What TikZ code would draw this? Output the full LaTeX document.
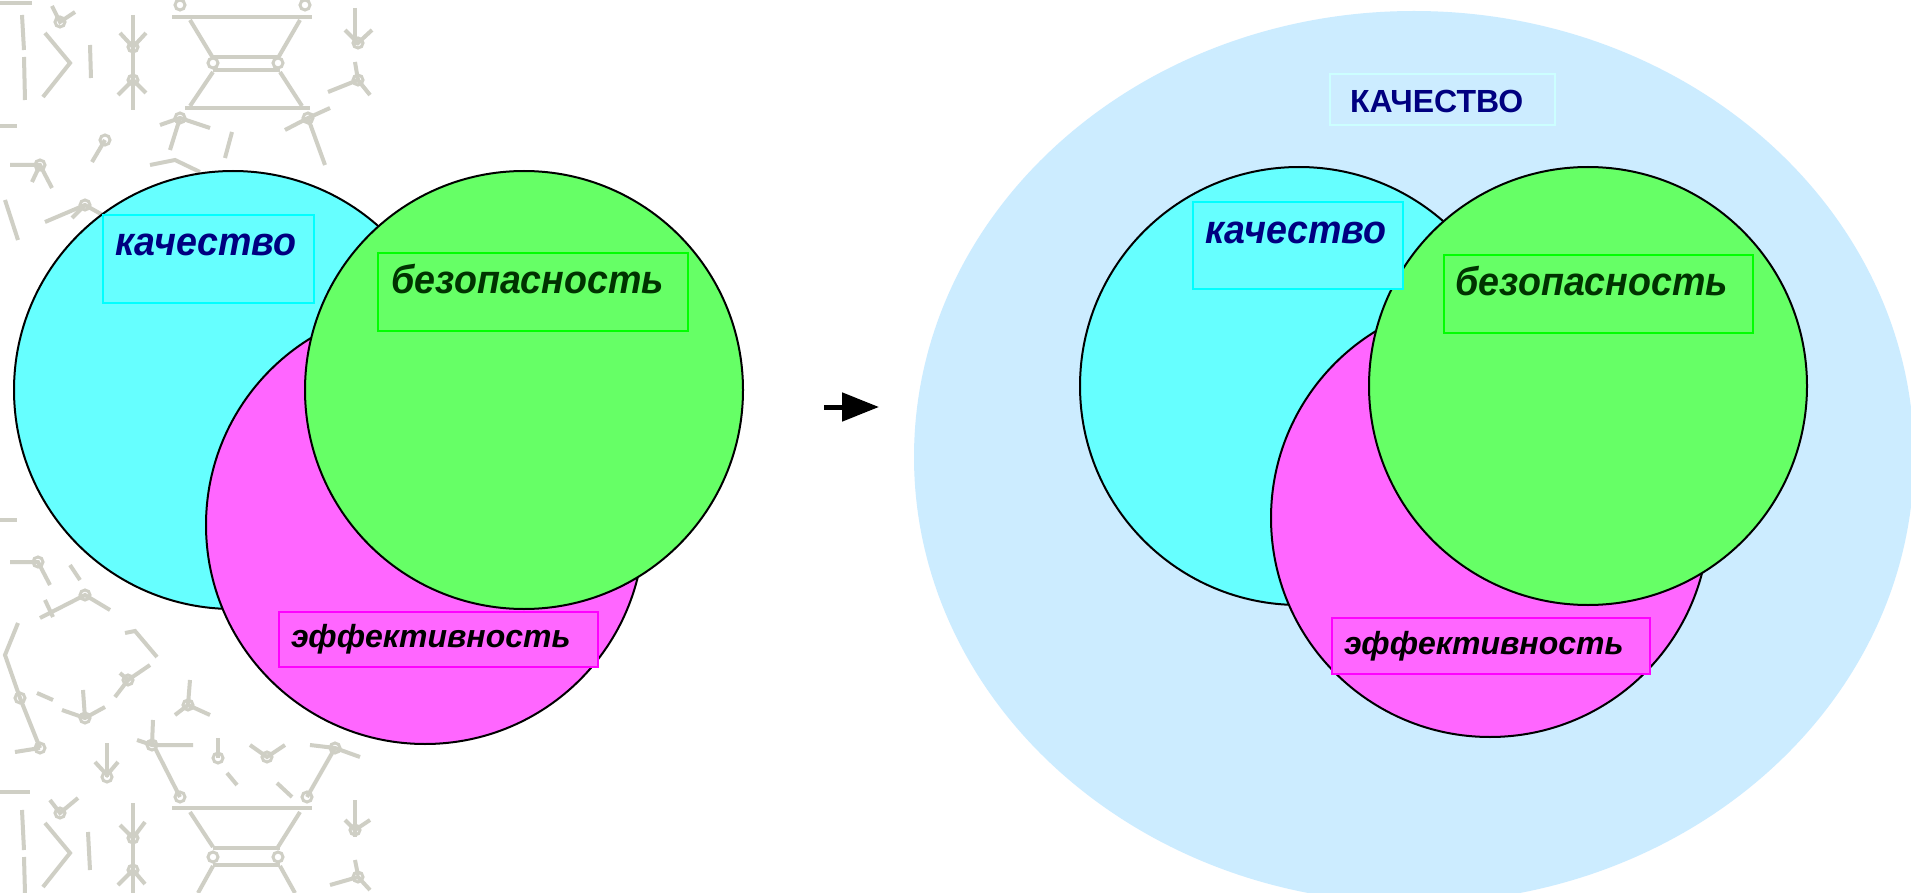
\documentclass[tikz,border=0pt]{standalone}
\usepackage{graphicx}
\usepackage{fontspec}
\setmainfont{Liberation Sans}
\usetikzlibrary{arrows.meta,shapes.geometric}
\definecolor{cyanf}{HTML}{66FFFF}
\definecolor{cyanb}{HTML}{00FFFF}
\definecolor{greenf}{HTML}{66FF66}
\definecolor{greenb}{HTML}{00FF00}
\definecolor{magf}{HTML}{FF66FF}
\definecolor{magb}{HTML}{FF00FF}
\definecolor{navyc}{HTML}{000080}
\definecolor{dgreen}{HTML}{003300}
\definecolor{ellc}{HTML}{CCECFF}
\definecolor{ellb}{HTML}{CCFFFF}
\definecolor{patc}{HTML}{CFCFC5}
\newcommand{\narrowtxt}[1]{\scalebox{0.94}[1]{#1}}
\tikzset{
  venn/.style={circle, draw=black, line width=2pt, minimum size=438pt, inner sep=0pt},
  lbox/.style={draw, line width=2pt, inner sep=0pt},
  ltext/.style={anchor=base west, inner sep=0pt, font=\fontsize{40}{48}\selectfont\bfseries\itshape},
  etext/.style={anchor=base west, inner sep=0pt, font=\fontsize{32}{38}\selectfont\bfseries\itshape},
  pat/.style={draw=patc, line width=4pt},
  pcirc/.style={draw=patc, line width=3pt}
}
\begin{document}
\begin{tikzpicture}[x=1pt,y=-1pt]
\useasboundingbox (0,0) rectangle (1911,893);
\clip (0,0) rectangle (1911,893);
\fill[white] (0,0) rectangle (1911,893);

% decorative background pattern (left strip)
\begin{scope}[pat]
\draw (0,3) -- (32,3);
\draw (22,15) -- (24,50); \draw (24,57) -- (25,100);
\draw (45,33) -- (70,63) -- (43,97);
\draw (90,45) -- (91,78);
\draw (133,15) -- (133,110);
\draw (120,33) -- (133,47) -- (146,33);
\draw (118,95) -- (133,80) -- (146,93);
\draw (52,6) -- (60,22) -- (75,12);
\draw (172,17) -- (312,17);
\draw (190,20) -- (213,58); \draw (300,20) -- (278,58);
\draw (213,57) -- (280,57); \draw (213,70) -- (280,70);
\draw (213,72) -- (190,106); \draw (280,72) -- (302,106);
\draw (185,108) -- (310,108);
\draw (355,8) -- (355,45);
\draw (345,30) -- (358,43) -- (372,30);
\draw (355,62) -- (358,80);
\draw (328,92) -- (358,80) -- (370,95);
\draw (0,126) -- (17,126);
\draw (160,125) -- (180,118) -- (210,128); \draw (180,118) -- (170,150);
\draw (285,130) -- (308,118) -- (330,108); \draw (308,118) -- (325,165);
\draw (10,165) -- (40,165) -- (52,188); \draw (40,165) -- (32,182);
\draw (105,140) -- (92,162);
\draw (45,222) -- (85,205) -- (108,218); \draw (85,205) -- (72,218);
\draw (225,158) -- (232,132);
\draw (150,165) -- (175,160) -- (200,172);
\draw (5,200) -- (18,240);
% bottom part
\draw (0,520) -- (17,520);
\draw (10,562) -- (38,562) -- (50,585);
\draw (70,565) -- (80,580);
\draw (40,618) -- (85,595) -- (110,610);
\draw (45,600) -- (53,617);
\draw (18,623) -- (5,655) -- (20,698) -- (40,748);
\draw (15,752) -- (40,748);
\draw (37,693) -- (53,700);
\draw (125,633) -- (135,631) -- (157,657);
\draw (120,673) -- (128,680) -- (150,665); \draw (128,680) -- (115,697);
\draw (62,710) -- (85,718) -- (105,707); \draw (85,718) -- (83,690);
\draw (107,743) -- (107,777); \draw (95,762) -- (107,775) -- (118,762);
\draw (137,740) -- (152,745) -- (193,745); \draw (152,745) -- (153,720);
\draw (175,715) -- (188,705) -- (210,715); \draw (188,705) -- (190,680);
\draw (218,758) -- (218,738);
\draw (227,773) -- (237,785);
\draw (277,783) -- (292,797);
\draw (250,745) -- (267,757) -- (285,745);
\draw (310,745) -- (335,748) -- (360,757);
\draw (335,748) -- (307,797);
\draw (155,748) -- (180,797);
\draw (172,808) -- (312,808);
\draw (190,812) -- (213,847); \draw (300,812) -- (278,847);
\draw (213,848) -- (280,848); \draw (213,865) -- (280,865);
\draw (213,866) -- (198,893); \draw (280,866) -- (295,893);
\draw (0,792) -- (30,792);
\draw (45,823) -- (70,853) -- (43,887);
\draw (22,810) -- (24,850); \draw (24,857) -- (25,893);
\draw (88,832) -- (90,870);
\draw (133,803) -- (133,893);
\draw (120,825) -- (133,838) -- (145,822);
\draw (118,885) -- (133,870) -- (145,884);
\draw (50,800) -- (60,813) -- (78,798);
\draw (355,800) -- (355,837);
\draw (345,820) -- (355,830) -- (370,820);
\draw (355,860) -- (358,875);
\draw (330,885) -- (358,877) -- (370,890);
\end{scope}
\begin{scope}[pcirc]
\foreach \p in {(133,47),(133,80),(180,5),(305,5),(213,63),(278,63),(358,43),(358,80),(180,118),(308,118),(40,165),(105,140),(85,205),(60,22),
  (38,562),(85,595),(20,698),(40,748),(128,680),(85,718),(107,777),(152,745),(188,705),(218,758),(267,757),(335,748),(180,797),(307,797),(213,857),(278,857),(133,838),(133,870),(60,813),(355,830),(358,877)}
  \draw \p circle[radius=5pt];
\end{scope}

% right: big ellipse
\node[ellipse, fill=ellc, minimum width=1000pt, minimum height=892pt, inner sep=0pt] (E) at (1414,457) {};
\node[lbox, draw=ellb, fill=ellc, minimum width=225pt, minimum height=51pt] (bK) at (1442.5,99.5) {};
\node[anchor=base west, inner sep=0pt, text=navyc, font=\fontsize{32}{38}\selectfont\bfseries] (tK) at (1350,113) {КАЧЕСТВО};

% arrow
\coordinate (a1) at (824,407);
\coordinate (a2) at (879,407);
\draw[line width=5pt, -{Triangle[length=37pt,width=28pt]}] (a1) -- (a2);

% left Venn
\node[venn, fill=cyanf] (c1) at (233,390) {};
\node[venn, fill=magf] (m1) at (425,525) {};
\node[venn, fill=greenf] (g1) at (524,390) {};
\node[lbox, draw=cyanb, fill=cyanf, minimum width=211pt, minimum height=88pt] (bc1) at (208.5,259) {};
\node[lbox, draw=greenb, fill=greenf, minimum width=310pt, minimum height=78pt] (bg1) at (533,292) {};
\node[lbox, draw=magb, fill=magf, minimum width=319pt, minimum height=55pt] (bm1) at (438.5,639.5) {};
\node[ltext, text=navyc] (tc1) at (115,256) {\narrowtxt{качество}};
\node[ltext, text=dgreen] (tg1) at (391,294) {\narrowtxt{безопасность}};
\node[etext, text=black] (tm1) at (291,647) {эффективность};

% right Venn
\node[venn, fill=cyanf] (c2) at (1299,386) {};
\node[venn, fill=magf] (m2) at (1490,518) {};
\node[venn, fill=greenf] (g2) at (1588,386) {};
\node[lbox, draw=cyanb, fill=cyanf, minimum width=210pt, minimum height=87pt] (bc2) at (1298,245.5) {};
\node[lbox, draw=greenb, fill=greenf, minimum width=309pt, minimum height=78pt] (bg2) at (1598.5,294) {};
\node[lbox, draw=magb, fill=magf, minimum width=318pt, minimum height=56pt] (bm2) at (1491,646) {};
\node[ltext, text=navyc] (tc2) at (1205,244) {\narrowtxt{качество}};
\node[ltext, text=dgreen] (tg2) at (1455,296) {\narrowtxt{безопасность}};
\node[etext, text=black] (tm2) at (1344,654) {эффективность};
\end{tikzpicture}
\end{document}
